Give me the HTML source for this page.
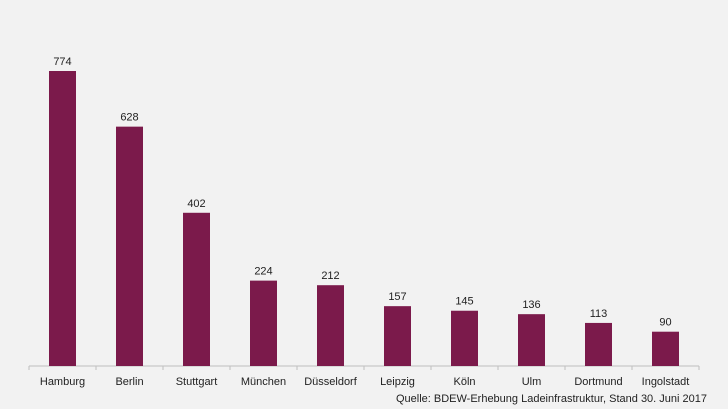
<!DOCTYPE html>
<html><head><meta charset="utf-8"><style>
body{margin:0;background:#f2f2f2;}
svg{display:block;font-family:"Liberation Sans",sans-serif;}
</style></head><body>
<svg width="728" height="409">
<rect width="728" height="409" fill="#f2f2f2"/>
<g id="bars"></g>
<text x="707" y="402" text-anchor="end" font-size="11" fill="#222">Quelle: BDEW-Erhebung Ladeinfrastruktur, Stand 30. Juni 2017</text>
</svg>
<script>
const categories=["Hamburg","Berlin","Stuttgart","München","Düsseldorf","Leipzig","Köln","Ulm","Dortmund","Ingolstadt"];
const values=[774,628,402,224,212,157,145,136,113,90];
const ns="http://www.w3.org/2000/svg";
const g=document.getElementById("bars");
const x0=29,step=67,base=366,scale=295/774,bw=27;
function xc(i){return x0+step*i+step/2;}
function y(v){return base-v*scale;}
function mk(t,a){const e=document.createElementNS(ns,t);for(const k in a)e.setAttribute(k,a[k]);g.appendChild(e);return e;}
const ax=mk("line",{x1:x0,x2:x0+step*categories.length,y1:base,y2:base,stroke:"#bfbfbf","stroke-width":1});


for(let i=0;i<=categories.length;i++){
 const t=mk("line",{x1:x0+step*i,x2:x0+step*i,y1:base,y2:base+4,stroke:"#bfbfbf"});
 
 
}
values.forEach((v,i)=>{
 const r=mk("rect",{x:xc(i)-bw/2,y:y(v),width:bw,height:base-y(v),fill:"#7b1a4b"});
 
 
 const l=mk("text",{x:xc(i),y:y(v)-6,"text-anchor":"middle","font-size":"11",fill:"#222"});
 l.textContent=v;
 
 
 const c=mk("text",{x:xc(i),y:base+19,"text-anchor":"middle","font-size":"11",fill:"#222"});
 c.textContent=categories[i];
 
 
});
</script>
</body></html>
